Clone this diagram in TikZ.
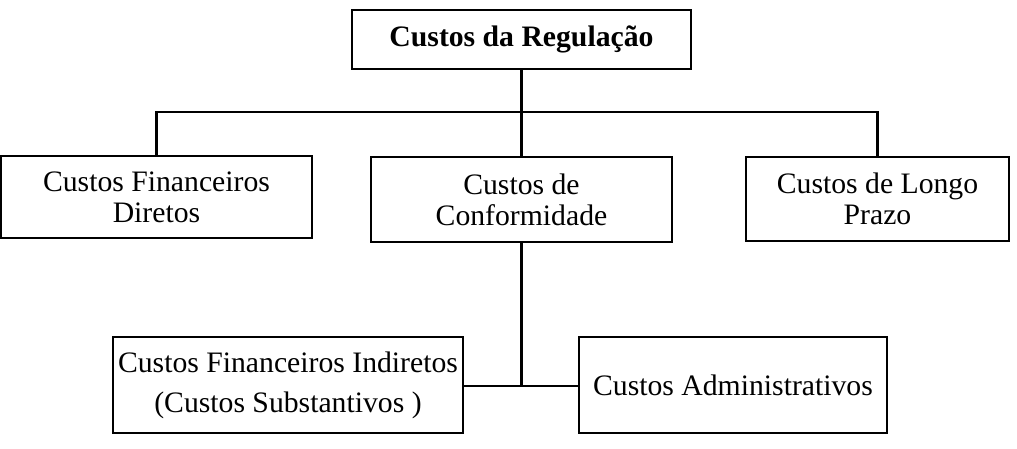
\documentclass[tikz,border=0pt]{standalone}
\usepackage{fontspec}
\setmainfont{Liberation Serif}
\begin{document}
\begin{tikzpicture}[x=1pt,y=-1pt,
  box/.style={draw,line width=2.6pt,inner sep=0pt,align=center,
    font={\fontsize{29.7pt}{31pt}\selectfont}},
  conn/.style={line width=2.6pt}]
\useasboundingbox (0,0) rectangle (1017,448);
\node[box,minimum width=339pt,minimum height=59pt,font={\fontsize{29.7pt}{31pt}\selectfont\bfseries}] (top) at (521.5,39.5) {Custos da Regulação};
\node[box,minimum width=311pt,minimum height=82pt] (b1) at (156.5,197) {Custos Financeiros\\Diretos};
\node[box,minimum width=301pt,minimum height=85pt] (b2) at (521.5,199.5) {Custos de\\Conformidade};
\node[box,minimum width=263pt,minimum height=84pt] (b3) at (877.5,199) {Custos de Longo\\Prazo};
\node[box,minimum width=350pt,minimum height=96pt,font={\fontsize{29.7pt}{40pt}\selectfont}] (b4) at (288,385) {Custos Financeiros Indiretos\\(Custos Substantivos )};
\node[box,minimum width=308pt,minimum height=96pt] (b5) at (733,385) {Custos Administrativos};
\coordinate (bus) at (521.5,112);
\coordinate (j) at (521.5,386);
\draw[conn] (top.south) -- (b2.north);
\draw[conn] (b1.north) |- (bus) -| (b3.north);
\draw[conn] (b2.south) -- (j);
\draw[conn] (b4.east |- j) -- (b5.west |- j);
\end{tikzpicture}
\end{document}
